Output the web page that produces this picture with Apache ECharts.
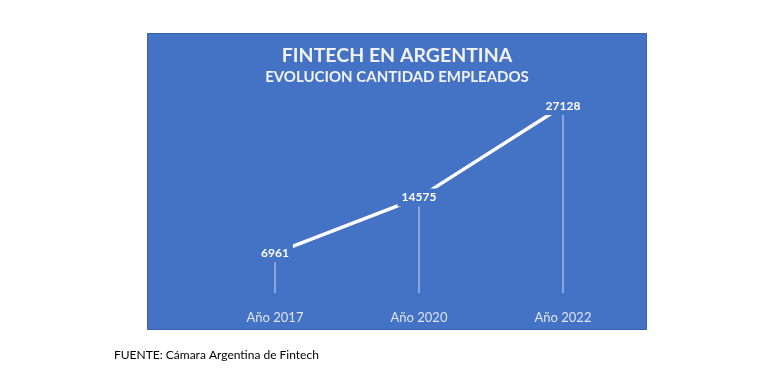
<!DOCTYPE html>
<html>
<head>
<meta charset="utf-8">
<script src="https://cdn.jsdelivr.net/npm/echarts@6/dist/echarts.min.js"></script>
<style>
html,body{margin:0;padding:0;background:#fff;}
#chart{width:782px;height:382px;}
</style>
</head>
<body>
<div id="chart"></div>
<script>
const categories = ['Año 2017', 'Año 2020', 'Año 2022'];
const empleados = [6961, 14575, 27128];
const dropBase = 1500;
const titleText = 'FINTECH EN ARGENTINA';
const subtitleText = 'EVOLUCION CANTIDAD EMPLEADOS';
const sourceText = 'FUENTE: Cámara Argentina de Fintech';

const chart = echarts.init(document.getElementById('chart'));
const FONT = 'Lato, "Open Sans", sans-serif';

const option = {
  backgroundColor: '#ffffff',
  animation: false,
  graphic: [
    {
      type: 'rect', z: -10, silent: true,
      shape: { x: 147.5, y: 33.5, width: 499, height: 296 },
      style: { fill: '#4472C4', stroke: '#3A62AA', lineWidth: 1 }
    },
    {
      type: 'text', z: 10, x: 397, y: 56,
      style: { text: titleText, align: 'center', verticalAlign: 'middle',
        fill: '#F2F2F2', font: 'bold 19.5px ' + FONT }
    },
    {
      type: 'text', z: 10, x: 397, y: 77,
      style: { text: subtitleText, align: 'center', verticalAlign: 'middle',
        fill: '#F2F2F2', font: 'bold 15px ' + FONT }
    },
    {
      type: 'text', z: 10, x: 114, y: 355,
      style: { text: sourceText, align: 'left', verticalAlign: 'middle',
        fill: '#000000', font: '12px ' + FONT }
    }
  ],
  grid: { left: 203, right: 147, top: 85, bottom: 78 },
  xAxis: {
    type: 'category',
    data: categories,
    boundaryGap: true,
    axisLine: { show: false },
    axisTick: { show: false },
    splitLine: { show: false },
    axisLabel: { color: '#DDE4F2', fontFamily: FONT, fontSize: 13, margin: 7 }
  },
  yAxis: {
    type: 'value', min: 0, max: 30000, show: false,
    splitLine: { show: false }
  },
  series: [
    {
      type: 'line',
      data: empleados,
      z: 3,
      symbol: 'circle',
      symbolSize: 1,
      itemStyle: { color: '#FFFFFF' },
      lineStyle: { color: '#FFFFFF', width: 3.5 },
      label: {
        show: true,
        position: 'inside',
        color: '#FFFFFF',
        fontFamily: FONT,
        fontWeight: 'bold',
        fontSize: 12,
        backgroundColor: '#4472C4',
        padding: [3, 4]
      },
      markLine: {
        z: 1,
        silent: true,
        symbol: ['none', 'none'],
        label: { show: false },
        lineStyle: { color: 'rgba(190,210,240,0.75)', width: 1.5, type: 'solid' },
        data: empleados.map((v, i) => [
          { coord: [i, v] },
          { coord: [i, dropBase] }
        ])
      }
    }
  ]
};
chart.setOption(option);
</script>
</body>
</html>
